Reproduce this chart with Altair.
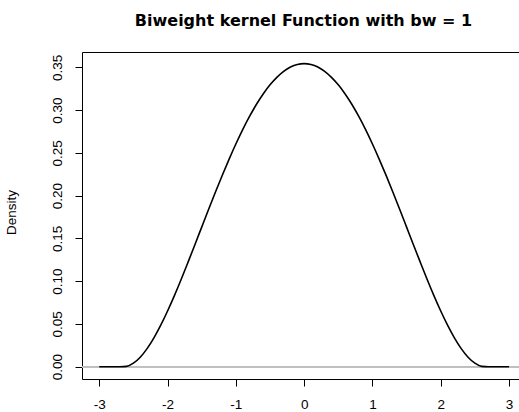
import altair as alt
import pandas as pd

x_vals = [-3.0, -2.9, -2.8, -2.7, -2.6, -2.5, -2.4, -2.3, -2.2, -2.1,
          -2.0, -1.9, -1.8, -1.7, -1.6, -1.5, -1.4, -1.3, -1.2, -1.1,
          -1.0, -0.9, -0.8, -0.7, -0.6, -0.5, -0.4, -0.3, -0.2, -0.1,
          0.0,
          0.1, 0.2, 0.3, 0.4, 0.5, 0.6, 0.7, 0.8, 0.9, 1.0,
          1.1, 1.2, 1.3, 1.4, 1.5, 1.6, 1.7, 1.8, 1.9, 2.0,
          2.1, 2.2, 2.3, 2.4, 2.5, 2.6, 2.7, 2.8, 2.9, 3.0]

density = [0.0, 0.0, 0.0, 0.0, 0.0004, 0.0041, 0.0111, 0.0211, 0.0337, 0.0485,
           0.0651, 0.0831, 0.1022, 0.1222, 0.1426, 0.1632, 0.1837, 0.2039, 0.2236, 0.2424,
           0.2603, 0.2771, 0.2925, 0.3065, 0.3188, 0.3295, 0.3383, 0.3453, 0.3503, 0.3533,
           0.3543,
           0.3533, 0.3503, 0.3453, 0.3383, 0.3295, 0.3188, 0.3065, 0.2925, 0.2771, 0.2603,
           0.2424, 0.2236, 0.2039, 0.1837, 0.1632, 0.1426, 0.1222, 0.1022, 0.0831, 0.0651,
           0.0485, 0.0337, 0.0211, 0.0111, 0.0041, 0.0004, 0.0, 0.0, 0.0, 0.0]

x_ticks = [-3, -2, -1, 0, 1, 2, 3]
y_ticks = [0.0, 0.05, 0.10, 0.15, 0.20, 0.25, 0.30, 0.35]
title_text = "Biweight kernel Function with bw = 1"

df = pd.DataFrame({"x": x_vals, "y": density})

FONT = "Liberation Sans"
FS = 13.5

x_scale = alt.Scale(domain=[-3.253, 3.146], nice=False, zero=False)
y_scale = alt.Scale(domain=[-0.0144, 0.3679], nice=False, zero=False)

x_axis = alt.Axis(values=x_ticks, format="d", title=None, domain=False, grid=False,
                  tickSize=7, tickColor="black", labelPadding=11, labelFontSize=FS,
                  labelFont=FONT, labelColor="black", labelFlush=False, labelOverlap=False,
                  labelExpr="replace(datum.label, '\u2212', '-')")
y_axis = alt.Axis(values=y_ticks, format=".2f", title="Density", domain=False, grid=False,
                  tickSize=7, tickColor="black", labelPadding=14, labelFontSize=FS,
                  labelFont=FONT, labelColor="black", labelAngle=-90, labelAlign="center",
                  labelBaseline="alphabetic", labelFlush=False, labelOverlap=False,
                  titleFont=FONT, titleFontSize=FS, titleFontWeight="normal",
                  titleColor="black", titleAngle=-90, titleAlign="center",
                  titleBaseline="alphabetic", titleX=-67, titleY=160)

zero = alt.Chart(df).mark_rule(color="#BEBEBE", strokeWidth=1).encode(
    y=alt.datum(0, scale=y_scale, axis=y_axis)
)

curve = alt.Chart(df).mark_line(color="black", strokeWidth=1.6, interpolate="monotone").encode(
    x=alt.X("x:Q", scale=x_scale, axis=x_axis),
    y=alt.Y("y:Q", scale=y_scale, axis=y_axis),
)

chart = alt.layer(zero, curve).properties(
    width=437,
    height=327,
    title=alt.TitleParams(title_text, font="DejaVu Sans", fontSize=16, fontWeight="bold",
                          anchor="middle", frame="group", offset=10,
                          baseline="alphabetic", dx=3, color="black"),
    autosize=alt.AutoSizeParams(type="none"),
    padding={"left": 82, "top": 52, "right": 0, "bottom": 33},
    background="white",
).configure_view(stroke="black", strokeWidth=1)

chart.save("out.html", embed_options={"renderer": "svg", "actions": False})
